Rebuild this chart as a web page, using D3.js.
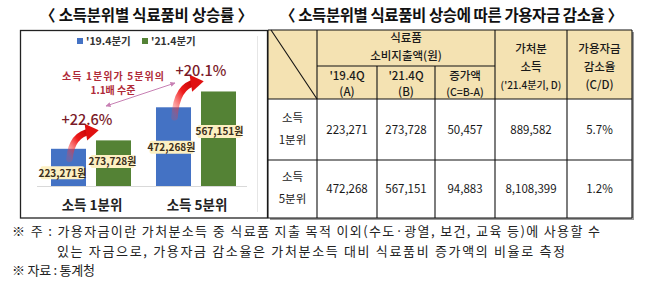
<!DOCTYPE html>
<html>
<head>
<meta charset="utf-8">
<script src="https://cdn.jsdelivr.net/npm/d3@7"></script>
<style>
  html, body { margin: 0; padding: 0; background: #fff; }
  svg { display: block; font-family: "Noto Sans CJK KR", "Noto Sans", sans-serif; }
</style>
</head>
<body>
<div id="chart"></div>
<script>
// Data
const categories = ["소득 1분위", "소득 5분위"];
const seriesNames = ["'19.4분기", "'21.4분기"];
const food19 = [223271, 472268];
const food21 = [273728, 567151];
const increase = [50457, 94883];
const disposable = [889582, 8108399];
const reduction = [5.7, 1.2];
const rowLabels = [["소득", "1분위"], ["소득", "5분위"]];
const noteLines = [
  "※ 주 : 가용자금이란 가처분소득 중 식료품 지출 목적 이외(수도·광열, 보건, 교육 등)에 사용할 수",
  "있는 자금으로, 가용자금 감소율은 가처분소득 대비 식료품비 증가액의 비율로 측정",
  "※ 자료 : 통계청"
];

const W = 658, H = 281;
const colors = ["#4472c4", "#548235"];
const fmt = d3.format(",");

const svg = d3.select("#chart").append("svg")
  .attr("width", W).attr("height", H);

svg.append("rect").attr("width", W).attr("height", H).attr("fill", "#fff");

const defs = svg.append("defs");
const grad = defs.append("linearGradient").attr("id", "redArrow")
  .attr("x1", 0).attr("y1", 1).attr("x2", 1).attr("y2", 0);
grad.append("stop").attr("offset", "0%").attr("stop-color", "#ff4040").attr("stop-opacity", 0.2);
grad.append("stop").attr("offset", "55%").attr("stop-color", "#ee1c1c");
grad.append("stop").attr("offset", "100%").attr("stop-color", "#c00000");

defs.append("marker").attr("id", "pinkHead")
  .attr("viewBox", "0 0 10 10").attr("refX", 9).attr("refY", 5)
  .attr("markerWidth", 5).attr("markerHeight", 5).attr("orient", "auto-start-reverse")
  .append("path").attr("d", "M0,0 L10,5 L0,10 z").attr("fill", "#c77fb3");

// ---------- Titles ----------
svg.append("text").attr("x", 40).attr("y", 21)
  .attr("font-size", 15.5).attr("font-weight", "bold").attr("fill", "#111")
  .attr("textLength", 213).attr("lengthAdjust", "spacing")
  .text("〈 소득분위별 식료품비 상승률 〉");
svg.append("text").attr("x", 280).attr("y", 21)
  .attr("font-size", 15.5).attr("font-weight", "bold").attr("fill", "#111")
  .attr("textLength", 343).attr("lengthAdjust", "spacing")
  .text("〈 소득분위별 식료품비 상승에 따른 가용자금 감소율 〉");

// ---------- Left: bar chart ----------
svg.append("rect").attr("x", 20.5).attr("y", 30.5).attr("width", 247).attr("height", 187.5)
  .attr("fill", "#fff").attr("stroke", "#222").attr("stroke-width", 1.3);
svg.append("line").attr("x1", 257.5).attr("x2", 257.5).attr("y1", 36).attr("y2", 212)
  .attr("stroke", "#e6e6e6");

const x0 = d3.scaleBand().domain(categories).range([38.5, 248.5])
  .paddingInner(0.238).paddingOuter(0.119);
const x1 = d3.scaleBand().domain(seriesNames).range([0, x0.bandwidth()])
  .paddingInner(0.222);
const y = d3.scaleLinear().domain([0, 600000]).range([186, 86]);

const barData = categories.map((c, i) => ({
  cat: c,
  vals: [
    { s: seriesNames[0], v: food19[i], k: 0 },
    { s: seriesNames[1], v: food21[i], k: 1 }
  ]
}));

// legend
const legend = svg.append("g").attr("transform", "translate(77,41)");
const legX = [0, 65];
seriesNames.forEach((s, i) => {
  const g = legend.append("g").attr("transform", `translate(${legX[i]},0)`);
  g.append("rect").attr("x", 0).attr("y", -3).attr("width", 6).attr("height", 6).attr("fill", colors[i]);
  g.append("text").attr("x", 9).attr("y", 4).attr("font-size", 10.5).attr("font-weight", "bold")
    .attr("fill", "#333").text(s);
});

// baseline
svg.append("line").attr("x1", 37).attr("x2", 247).attr("y1", y(0) + 0.5).attr("y2", y(0) + 0.5)
  .attr("stroke", "#d9d9d9");

const groups = svg.selectAll("g.grp").data(barData).join("g")
  .attr("class", "grp")
  .attr("transform", d => `translate(${x0(d.cat)},0)`);

groups.selectAll("rect").data(d => d.vals).join("rect")
  .attr("x", d => x1(d.s)).attr("y", d => y(d.v))
  .attr("width", x1.bandwidth()).attr("height", d => y(0) - y(d.v))
  .attr("fill", d => colors[d.k]);

// category labels
svg.selectAll("text.cat").data(categories).join("text")
  .attr("class", "cat")
  .attr("x", d => x0(d) + x0.bandwidth() / 2 + 1).attr("y", 210)
  .attr("text-anchor", "middle").attr("font-size", 13.5).attr("font-weight", "bold")
  .attr("fill", "#222").text(d => d);

// red curved arrows (anchored to bar tops)
function redArrow(tx, ty, ex, ey, cx, cy) {
  const g = svg.append("g");
  g.append("path")
    .attr("d", `M${tx},${ty} Q${cx},${cy} ${ex},${ey}`)
    .attr("fill", "none").attr("stroke", "url(#redArrow)").attr("stroke-width", 6.5)
    .attr("stroke-linecap", "round");
  const ang = Math.atan2(ey - cy, ex - cx);
  const L = 13, Wd = 8.5;
  const tipX = ex + Math.cos(ang) * L * 0.6, tipY = ey + Math.sin(ang) * L * 0.6;
  const bx = ex - Math.cos(ang) * L * 0.4, by = ey - Math.sin(ang) * L * 0.4;
  const nx = -Math.sin(ang), ny = Math.cos(ang);
  g.append("path")
    .attr("d", `M${tipX},${tipY} L${bx + nx * Wd},${by + ny * Wd} L${bx - nx * Wd},${by - ny * Wd} Z`)
    .attr("fill", "#e01010");
}

const pctDx = [-9, 0];
barData.forEach((d, i) => {
  const bc = x0(d.cat) + x1(seriesNames[0]) + x1.bandwidth() / 2;
  const bt = y(food19[i]);
  const gl = x0(d.cat) + x1(seriesNames[1]);
  const gt = y(food21[i]);
  redArrow(bc + 1, bt + 10, gl - 5, gt - 9, bc + 3, gt - 6);
  const pct = (food21[i] / food19[i] - 1) * 100;
  svg.append("text").attr("x", gl + pctDx[i]).attr("y", gt - 15)
    .attr("text-anchor", "middle").attr("font-size", 14.5).attr("fill", "#7a1a28")
    .attr("font-weight", "500")
    .text("+" + pct.toFixed(1) + "%");
});

// value labels
const labelOff = [[[-6, 24], [-1, 21]], [[-2, 40], [1, 40]]];
barData.forEach((d, i) => {
  d.vals.forEach(v => {
    const cx = x0(d.cat) + x1(v.s) + x1.bandwidth() / 2 + labelOff[i][v.k][0];
    const cy = y(v.v) + labelOff[i][v.k][1];
    const txt = fmt(v.v) + "원";
    svg.append("rect").attr("x", cx - 22).attr("y", cy - 6.5).attr("width", 44).attr("height", 13)
      .attr("rx", 2).attr("fill", "#fdf0c2");
    svg.append("text").attr("x", cx).attr("y", cy + 4).attr("text-anchor", "middle")
      .attr("font-size", 10).attr("font-weight", "bold").attr("fill", "#3b2e1a").text(txt);
  });
});

// annotation + double arrow
svg.append("line").attr("x1", 106).attr("y1", 106).attr("x2", 175).attr("y2", 83)
  .attr("stroke", "#c77fb3").attr("stroke-width", 1)
  .attr("marker-start", "url(#pinkHead)").attr("marker-end", "url(#pinkHead)");
svg.append("text").attr("x", 113).attr("y", 80).attr("text-anchor", "middle")
  .attr("font-size", 10).attr("font-weight", "bold").attr("fill", "#b02a38")
  .attr("textLength", 102).attr("lengthAdjust", "spacing")
  .text("소득 1분위가 5분위의");
svg.append("text").attr("x", 113).attr("y", 93.5).attr("text-anchor", "middle")
  .attr("font-size", 10).attr("font-weight", "bold").attr("fill", "#b02a38")
  .text("1.1배 수준");

// ---------- Right: table ----------
const colX = [268, 317, 377, 435, 495, 567, 632];
const rowY = [30, 66, 99, 160, 218];
const tb = svg.append("g");
tb.append("rect").attr("x", colX[0] + 2).attr("y", rowY[0] + 2)
  .attr("width", colX[6] - colX[0]).attr("height", rowY[4] - rowY[0]).attr("fill", "#9a9a9a");
tb.append("rect").attr("x", colX[0]).attr("y", rowY[0])
  .attr("width", colX[6] - colX[0]).attr("height", rowY[4] - rowY[0]).attr("fill", "#fff");
tb.append("rect").attr("x", colX[0]).attr("y", rowY[0])
  .attr("width", colX[6] - colX[0]).attr("height", rowY[2] - rowY[0]).attr("fill", "#f4e2b2");

const ln = (x1_, y1_, x2_, y2_) => tb.append("line")
  .attr("x1", x1_).attr("y1", y1_).attr("x2", x2_).attr("y2", y2_)
  .attr("stroke", "#111").attr("stroke-width", 1.1);
rowY.forEach((yy, i) => {
  if (i === 1) ln(colX[1], yy, colX[4], yy);
  else ln(colX[0], yy, colX[6], yy);
});
colX.forEach((xx, i) => {
  if (i === 2 || i === 3) ln(xx, rowY[1], xx, rowY[4]);
  else ln(xx, rowY[0], xx, rowY[4]);
});
ln(colX[0] + 3, rowY[0], colX[1], rowY[2]);

const tx = (x, y_, s, size, wt) => tb.append("text").attr("x", x).attr("y", y_)
  .attr("text-anchor", "middle").attr("font-size", size || 11.5)
  .attr("font-weight", wt || "normal").attr("fill", "#1a1a1a").text(s);
const mid = i => (colX[i] + colX[i + 1]) / 2;
const hw = "500";

tx((colX[1] + colX[4]) / 2, 42, "식료품", 11.5, hw);
tx((colX[1] + colX[4]) / 2, 60, "소비지출액(원)", 11.5, hw);
tx(mid(1), 80, "'19.4Q", 11.5, hw);
tx(mid(1), 96, "(A)", 11.5, hw);
tx(mid(2), 80, "'21.4Q", 11.5, hw);
tx(mid(2), 96, "(B)", 11.5, hw);
tx(mid(3), 80, "증가액", 11.5, hw);
tx(mid(3), 96, "(C=B-A)", 10.5, hw);
tx(mid(4), 53, "가처분", 11.5, hw);
tx(mid(4), 71, "소득", 11.5, hw);
tx(mid(4), 89, "('21.4분기, D)", 10, hw);
tx(mid(5), 53, "가용자금", 11.5, hw);
tx(mid(5), 71, "감소율", 11.5, hw);
tx(mid(5), 89, "(C/D)", 11.5, hw);

rowLabels.forEach((r, i) => {
  const cy = (rowY[i + 2] + rowY[i + 3]) / 2;
  tx(mid(0), cy - 8, r[0]);
  tx(mid(0), cy + 14, r[1]);
  tx(mid(1), cy + 4, fmt(food19[i]));
  tx(mid(2), cy + 4, fmt(food21[i]));
  tx(mid(3), cy + 4, fmt(increase[i]));
  tx(mid(4), cy + 4, fmt(disposable[i]));
  tx(mid(5), cy + 4, reduction[i].toFixed(1) + "%");
});

// ---------- Notes ----------
const noteX = [12, 57, 12];
const noteY = [236, 256, 275];
const noteLen = [588, 508, 83];
noteLines.forEach((s, i) => {
  svg.append("text").attr("x", noteX[i]).attr("y", noteY[i])
    .attr("font-size", 13).attr("fill", "#222")
    .attr("textLength", noteLen[i]).attr("lengthAdjust", "spacing")
    .text(s);
});
</script>
</body>
</html>
